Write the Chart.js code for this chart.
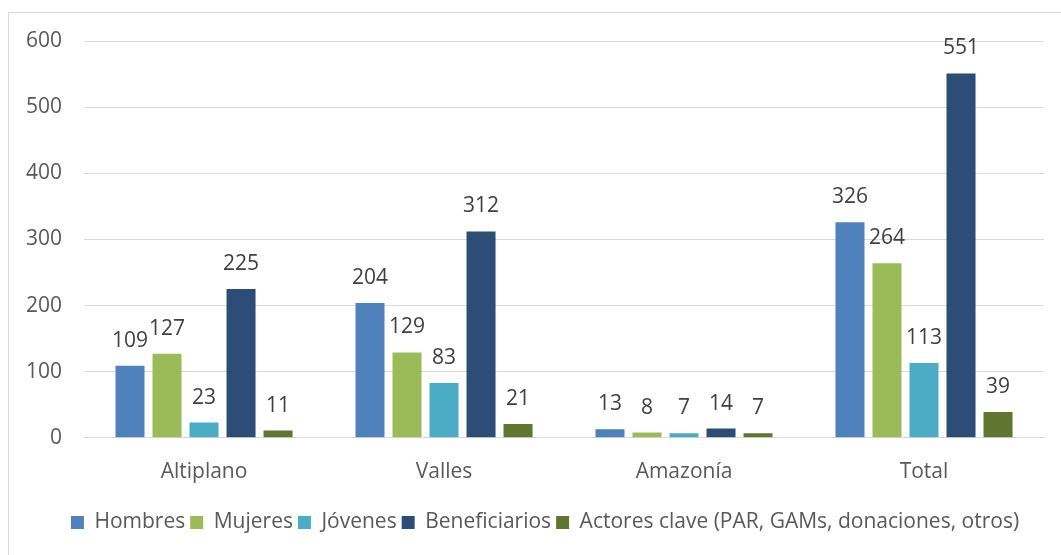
<!DOCTYPE html>
<html><head><meta charset="utf-8">
<script src="https://cdn.jsdelivr.net/npm/chart.js@4/dist/chart.umd.min.js"></script>
<style>
html,body{margin:0;padding:0;background:#fff;overflow:hidden}
#frame{position:absolute;left:8px;top:12px;width:1060px;height:550px;border:1px solid #d9d9d9;box-sizing:border-box}
#wrap{position:absolute;left:0;top:0;width:1061px;height:555px}
</style></head><body>
<div id="frame"></div>
<div id="wrap"><canvas id="c" width="1061" height="555"></canvas></div>
<script>
const categories = ["Altiplano", "Valles", "Amazonía", "Total"];
const hombres = [109, 204, 13, 326];
const mujeres = [127, 129, 8, 264];
const jovenes = [23, 83, 7, 113];
const beneficiarios = [225, 312, 14, 551];
const actores = [11, 21, 7, 39];
const seriesNames = ["Hombres", "Mujeres", "Jóvenes", "Beneficiarios", "Actores clave (PAR, GAMs, donaciones, otros)"];
const yTicks = [0, 100, 200, 300, 400, 500, 600];

const colors = ["#4F81BD", "#9BBB59", "#4BACC6", "#2C4D75", "#5F7530"];
const FONT = "'Open Sans', sans-serif";
const FS = 21;

const labelPlugin = {
  id: 'valueLabels',
  afterLayout(chart) {
    if (chart.legend) { chart.legend.left += 10; chart.legend.right += 10; }
  },
  afterDatasetsDraw(chart) {
    const ctx = chart.ctx;
    ctx.save();
    ctx.font = FS + "px " + FONT;
    ctx.fillStyle = "#404040";
    ctx.textAlign = "center";
    ctx.textBaseline = "alphabetic";
    chart.data.datasets.forEach((ds, i) => {
      chart.getDatasetMeta(i).data.forEach((bar, j) => {
        ctx.fillText(String(ds.data[j]), bar.x, bar.y - 19);
      });
    });
    ctx.restore();
  }
};

const data = [hombres, mujeres, jovenes, beneficiarios, actores];
new Chart(document.getElementById('c'), {
  type: 'bar',
  data: {
    labels: categories,
    datasets: seriesNames.map((n, i) => ({
      label: n, data: data[i], backgroundColor: colors[i],
      categoryPercentage: 0.771, barPercentage: 0.784
    }))
  },
  options: {
    responsive: false, animation: false,
    layout: { padding: { left: 26, right: 17, top: 41, bottom: 12 } },
    plugins: {
      legend: {
        position: 'bottom',
        labels: { font: { family: FONT, size: FS }, color: "#595959", boxWidth: 13, boxHeight: 13, padding: 5 }
      },
      tooltip: { enabled: false }
    },
    scales: {
      x: {
        grid: { display: false },
        border: { color: "#d9d9d9" },
        ticks: { font: { family: FONT, size: FS }, color: "#595959", padding: 14 },
        afterFit: (s) => { s.height += 8; }
      },
      y: {
        min: 0, max: 600,
        afterBuildTicks: (s) => { s.ticks = yTicks.map(v => ({ value: v })); },
        grid: { color: "#d9d9d9", drawTicks: true, tickLength: 22, tickColor: "#fff" },
        border: { display: false },
        ticks: { font: { family: FONT, size: FS }, color: "#595959", padding: 0 }
      }
    }
  },
  plugins: [labelPlugin]
});
</script>
</body></html>
